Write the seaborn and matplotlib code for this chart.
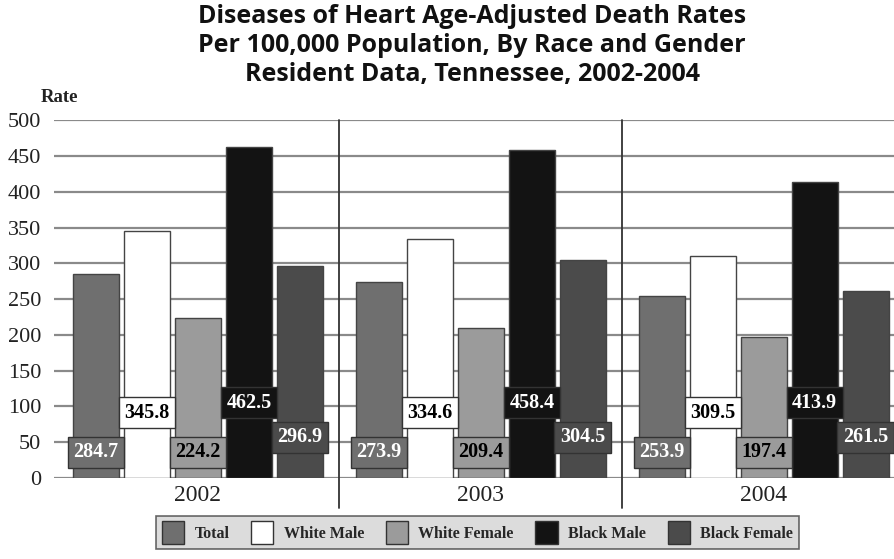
import matplotlib
matplotlib.use("Agg")
import matplotlib.pyplot as plt
import seaborn as sns
import pandas as pd
from matplotlib.patches import Patch

years = ["2002", "2003", "2004"]
groups = ["Total", "White Male", "White Female", "Black Male", "Black Female"]
total = [284.7, 273.9, 253.9]
white_male = [345.8, 334.6, 309.5]
white_female = [224.2, 209.4, 197.4]
black_male = [462.5, 458.4, 413.9]
black_female = [296.9, 304.5, 261.5]

series = [total, white_male, white_female, black_male, black_female]
rows = []
for g, vals in zip(groups, series):
    for y, v in zip(years, vals):
        rows.append({"Year": y, "Group": g, "Rate": v})
df = pd.DataFrame(rows)

colors = ["#6f6f6f", "#ffffff", "#9b9b9b", "#131313", "#4b4b4b"]
text_colors = ["white", "black", "black", "white", "white"]
label_y = [36, 91, 36, 105, 57]  # label box positions (style)

sns.set_theme(style="white")
plt.rcParams["font.family"] = ["Liberation Serif", "DejaVu Serif"]

fig = plt.figure(figsize=(8.94, 5.59), dpi=100)
ax = fig.add_axes([0.06, 0.145, 0.94, 0.64])

sns.barplot(data=df, x="Year", y="Rate", hue="Group", order=years,
            hue_order=groups, palette=colors, width=0.9, gap=0.1,
            edgecolor="#444444", linewidth=1.0, ax=ax, legend=False, zorder=3)

ax.set_ylim(0, 500)
ax.set_xlim(-0.51, 2.46)
ax.set_yticks(range(0, 501, 50))
ax.yaxis.grid(True, color="#8a8a8a", linewidth=1.6, zorder=0)
ax.set_axisbelow(True)
for s in ax.spines.values():
    s.set_visible(False)
ax.tick_params(axis="y", labelsize=16, length=0, pad=9, labelcolor="#222222")
ax.tick_params(axis="x", labelsize=17, length=0, pad=5, labelcolor="#222222")
ax.set_xlabel("")
ax.set_ylabel("")

for xs in [0.5, 1.5]:
    ax.axvline(xs, ymin=-0.085, ymax=1.0, color="#333333", linewidth=1.3,
               clip_on=False, zorder=2)

# value labels
for ci, cont in enumerate(ax.containers):
    for bar in cont:
        h = bar.get_height()
        cx = bar.get_x() + bar.get_width() / 2
        ax.text(cx, label_y[ci], f"{h:.1f}", ha="center", va="center",
                fontsize=14.5, fontweight="bold", color=text_colors[ci], zorder=5,
                bbox=dict(boxstyle="square,pad=0.28", facecolor=colors[ci],
                          edgecolor="#333333", linewidth=1.0))

fig.text(0.045, 0.81, "Rate", fontsize=13.5, fontweight="bold", color="#222222",
         ha="left", va="bottom")

fig.suptitle("Diseases of Heart Age-Adjusted Death Rates\n"
             "Per 100,000 Population, By Race and Gender\n"
             "Resident Data, Tennessee, 2002-2004",
             x=0.528, y=0.992, va="top", fontsize=18, fontweight="bold",
             family=["Open Sans", "DejaVu Sans"], linespacing=1.2, color="#111111")

handles = [Patch(facecolor=c, edgecolor="#333333", linewidth=1.0) for c in colors]
leg = fig.legend(handles, groups, loc="lower center", bbox_to_anchor=(0.534, 0.003),
                 ncol=5, frameon=True, fancybox=False, prop={"weight": "bold", "size": 11.5},
                 handlelength=1.4, handleheight=1.8, columnspacing=1.35,
                 handletextpad=0.65, borderpad=0.35)
leg.get_frame().set_facecolor("#d4d4d4")
leg.get_frame().set_edgecolor("#444444")
leg.get_frame().set_linewidth(1.2)

fig.savefig("out.png", dpi=100)
